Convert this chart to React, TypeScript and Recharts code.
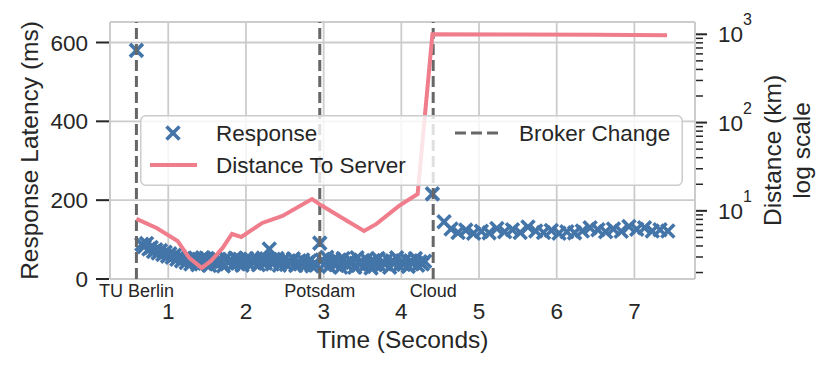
import React from 'react';
import {
  ComposedChart,
  Scatter,
  Line,
  XAxis,
  YAxis,
  CartesianGrid,
  ReferenceLine,
  Legend,
} from 'recharts';

// ---------- data ----------
const responseTimes = [
  0.59,
  0.66, 0.69, 0.72, 0.75, 0.78, 0.81, 0.84, 0.87, 0.9, 0.93, 0.96, 0.99, 1.02, 1.05, 1.08, 1.11, 1.14, 1.17, 1.2, 1.23,
  1.26, 1.29, 1.32, 1.35, 1.38, 1.41, 1.44, 1.47, 1.5, 1.53, 1.56, 1.59, 1.62, 1.65, 1.68, 1.71, 1.74, 1.77, 1.8, 1.83,
  1.86, 1.89, 1.92, 1.95, 1.98, 2.01, 2.04, 2.07, 2.1, 2.13, 2.16, 2.19, 2.22, 2.25, 2.3, 2.31, 2.34, 2.37, 2.4, 2.43,
  2.46, 2.49, 2.52, 2.55, 2.58, 2.61, 2.64, 2.67, 2.7, 2.73, 2.76, 2.79, 2.82, 2.85, 2.88, 2.91,
  2.95, 2.98, 3.01, 3.04, 3.07, 3.1, 3.13, 3.16, 3.19, 3.22, 3.25, 3.28, 3.31, 3.34, 3.37, 3.4, 3.43, 3.46, 3.49, 3.52,
  3.55, 3.58, 3.61, 3.64, 3.67, 3.7, 3.73, 3.76, 3.79, 3.82, 3.85, 3.88, 3.91, 3.94, 3.97, 4.0, 4.03, 4.06, 4.09, 4.12,
  4.15, 4.18, 4.21, 4.24, 4.27, 4.3,
  4.4,
  4.55, 4.64, 4.73, 4.83, 4.93, 5.03, 5.13, 5.23, 5.33, 5.43, 5.53, 5.63, 5.73, 5.83, 5.93, 6.03, 6.13, 6.23, 6.33, 6.43,
  6.53, 6.63, 6.73, 6.83, 6.93, 7.03, 7.13, 7.23, 7.33, 7.43,
];
const responseLatency = [
  580,
  88, 82, 90, 76, 80, 70, 74, 66, 72, 62, 68, 58, 64, 55, 60, 50, 57, 46, 52, 42,
  50, 38, 47, 53, 36, 48, 54, 40, 52, 34, 46, 53, 38, 50, 44, 33, 52, 42, 48, 36,
  53, 40, 50, 35, 45, 52, 38, 48, 42, 51, 36, 46, 53, 40, 76, 50, 38, 47, 52, 35,
  44, 50, 37, 46, 41, 51, 34, 44, 38, 48, 35, 42, 46, 33, 40, 36,
  91, 48, 38, 55, 32, 44, 50, 36, 46, 30, 52, 40, 34, 48, 42, 30, 54, 38, 45, 32,
  50, 40, 28, 47, 36, 52, 33, 44, 38, 50, 30, 46, 40, 54, 34, 44, 37, 50, 32, 46,
  40, 52, 35, 44, 38, 45,
  216,
  145, 127, 118, 124, 116, 121, 117, 128, 120, 125, 118, 132, 122, 118, 123, 116, 120, 117, 122, 130,
  125, 120, 127, 121, 133, 126, 130, 122, 125, 122,
];

const distanceTimes = [0.59, 0.85, 1.12, 1.27, 1.43, 1.55, 1.7, 1.82, 1.94, 2.21, 2.47, 2.85, 2.98, 3.24, 3.52, 3.68, 3.97, 4.21, 4.4, 5.5, 6.5, 7.42];
const distanceKm = [8.1, 6.4, 4.56, 2.93, 2.26, 2.71, 3.8, 5.47, 5.06, 7.29, 8.75, 13.6, 11.4, 8.31, 5.92, 7.11, 11.4, 15.5, 1000, 992, 985, 975];

const brokerTimes = [0.59, 2.95, 4.41];
const brokerNames = ['TU Berlin', 'Potsdam', 'Cloud'];

const xTicks = [1, 2, 3, 4, 5, 6, 7];
const latencyTicks = [0, 200, 400, 600];
const distanceMajorTicks = [10, 100, 1000];
const distanceMinorTicks = [2, 3, 4, 5, 6, 7, 8, 9, 20, 30, 40, 50, 60, 70, 80, 90, 200, 300, 400, 500, 600, 700, 800, 900];

const responseData = responseTimes.map((t, i) => ({ t, v: responseLatency[i] }));
const distanceData = distanceTimes.map((t, i) => ({ t, d: distanceKm[i] }));

// ---------- styles ----------
const FONT = '"Liberation Sans", Arial, sans-serif';
const TEXT = '#262626';
const BLUE = '#4475A8';
const PINK = '#F07D8B';
const DASH = '#676767';
const GRID = '#cccccc';

const XMark = (props: any) => {
  const { cx, cy } = props;
  if (cx == null || cy == null) return null;
  const s = 6.5;
  return (
    <g>
      <line x1={cx - s} y1={cy - s} x2={cx + s} y2={cy + s} stroke={BLUE} strokeWidth={3.6} />
      <line x1={cx - s} y1={cy + s} x2={cx + s} y2={cy - s} stroke={BLUE} strokeWidth={3.6} />
    </g>
  );
};

const LeftTick = (props: any) => {
  const { x, y, payload } = props;
  return (
    <g>
      <line x1={x - 14} x2={x - 1} y1={y} y2={y} stroke={TEXT} strokeWidth={2} />
      <text x={x - 22} y={y} dy="0.36em" textAnchor="end" fontSize={22.5} fontFamily={FONT} fill={TEXT}>
        {payload.value}
      </text>
    </g>
  );
};

const RightTick = (props: any) => {
  const { x, y, payload } = props;
  const v = payload.value;
  const major = distanceMajorTicks.includes(v);
  if (!major) {
    return <line x1={x + 1} x2={x + 8} y1={y} y2={y} stroke={TEXT} strokeWidth={1.5} />;
  }
  const exp = Math.round(Math.log10(v));
  return (
    <g>
      <line x1={x + 1} x2={x + 12} y1={y} y2={y} stroke={TEXT} strokeWidth={2} />
      <text x={x + 23} y={y} dy="0.36em" textAnchor="start" fontSize={22.5} fontFamily={FONT} fill={TEXT}>
        10
      </text>
      <text x={x + 48} y={y - 9} textAnchor="start" fontSize={16} fontFamily={FONT} fill={TEXT}>
        {exp}
      </text>
    </g>
  );
};

const BottomTick = (props: any) => {
  const { x, y, payload } = props;
  return (
    <text x={x} y={y + 40} textAnchor="middle" fontSize={22.5} fontFamily={FONT} fill={TEXT}>
      {payload.value}
    </text>
  );
};

const brokerLabel = (name: string) => (props: any) => {
  const vb = props.viewBox || {};
  return (
    <text x={vb.x} y={vb.y + vb.height + 18} textAnchor="middle" fontSize={18} fontFamily={FONT} fill={TEXT}>
      {name}
    </text>
  );
};

const leftTitle = (props: any) => {
  const vb = props.viewBox;
  const x = vb.x + 8;
  const y = vb.y + vb.height / 2;
  return (
    <text x={x} y={y} transform={`rotate(-90, ${x}, ${y})`} textAnchor="middle" fontSize={24.5} fontFamily={FONT} fill={TEXT}>
      Response Latency (ms)
    </text>
  );
};

const rightTitle = (props: any) => {
  const vb = props.viewBox;
  const x1 = vb.x + 86;
  const x2 = vb.x + 115;
  const y = vb.y + vb.height / 2;
  return (
    <g>
      <text x={x1} y={y} transform={`rotate(-90, ${x1}, ${y})`} textAnchor="middle" fontSize={24.5} fontFamily={FONT} fill={TEXT}>
        Distance (km)
      </text>
      <text x={x2} y={y} transform={`rotate(-90, ${x2}, ${y})`} textAnchor="middle" fontSize={24.5} fontFamily={FONT} fill={TEXT}>
        log scale
      </text>
    </g>
  );
};

const bottomTitle = (props: any) => {
  const vb = props.viewBox;
  return (
    <text x={vb.x + vb.width / 2} y={vb.y + 69} textAnchor="middle" fontSize={24.5} fontFamily={FONT} fill={TEXT}>
      Time (Seconds)
    </text>
  );
};

const renderLegend = () => (
  <svg width={543} height={71} style={{ display: 'block', overflow: 'visible' }}>
    <rect x={0.75} y={0.75} width={541.5} height={69.5} rx={5} ry={5} fill="rgba(255,255,255,0.8)" stroke={GRID} strokeWidth={1.5} />
    <g>
      <line x1={33 - 6.5} y1={18 - 6.5} x2={33 + 6.5} y2={18 + 6.5} stroke={BLUE} strokeWidth={3.6} />
      <line x1={33 - 6.5} y1={18 + 6.5} x2={33 + 6.5} y2={18 - 6.5} stroke={BLUE} strokeWidth={3.6} />
    </g>
    <text x={76} y={18} dy="0.36em" fontSize={22.5} fontFamily={FONT} fill={TEXT}>Response</text>
    <line x1={10} x2={57} y1={50} y2={50} stroke={PINK} strokeWidth={4} />
    <text x={76} y={50} dy="0.36em" fontSize={22.5} fontFamily={FONT} fill={TEXT}>Distance To Server</text>
    <line x1={315} x2={360} y1={18} y2={18} stroke={DASH} strokeWidth={3} strokeDasharray="11 5" />
    <text x={379} y={18} dy="0.36em" fontSize={22.5} fontFamily={FONT} fill={TEXT}>Broker Change</text>
  </svg>
);

export default function App() {
  return (
    <div style={{ position: 'absolute', left: 0, top: 0, width: 831, height: 373, background: '#fff', fontFamily: FONT }}>
      <ComposedChart width={831} height={373} margin={{ top: 22, right: 56, bottom: 54, left: 30 }}>
        <CartesianGrid yAxisId="left" stroke={GRID} strokeWidth={1.8} />
        <XAxis
          dataKey="t"
          type="number"
          domain={[0.25, 7.78]}
          allowDataOverflow
          ticks={xTicks}
          height={40}
          tickSize={0}
          tickMargin={0}
          tickLine={false}
          axisLine={{ stroke: GRID, strokeWidth: 2 }}
          tick={<BottomTick />}
          label={bottomTitle}
        />
        <YAxis
          yAxisId="left"
          orientation="left"
          type="number"
          domain={[0, 652]}
          allowDataOverflow
          ticks={latencyTicks}
          width={80}
          tickSize={0}
          tickMargin={0}
          tickLine={false}
          axisLine={{ stroke: GRID, strokeWidth: 2 }}
          tick={<LeftTick />}
          label={leftTitle}
        />
        <YAxis
          yAxisId="right"
          orientation="right"
          type="number"
          scale="log"
          domain={[1.69, 1378]}
          allowDataOverflow
          ticks={[...distanceMinorTicks, ...distanceMajorTicks]}
          interval={0}
          width={80}
          tickSize={0}
          tickMargin={0}
          tickLine={false}
          axisLine={{ stroke: GRID, strokeWidth: 2 }}
          tick={<RightTick />}
          label={rightTitle}
        />
        <ReferenceLine yAxisId="left" y={652} stroke={GRID} strokeWidth={2} />
        <Scatter
          yAxisId="left"
          data={responseData}
          dataKey="v"
          shape={<XMark />}
          isAnimationActive={false}
          zIndex={600}
        />
        {brokerTimes.map((t, i) => (
          <ReferenceLine
            key={brokerNames[i]}
            yAxisId="left"
            x={t}
            stroke={DASH}
            strokeWidth={3}
            strokeDasharray="11 5"
            label={brokerLabel(brokerNames[i])}
            zIndex={650}
          />
        ))}
        <Line
          yAxisId="right"
          data={distanceData}
          dataKey="d"
          type="linear"
          stroke={PINK}
          strokeWidth={4}
          dot={false}
          activeDot={false}
          isAnimationActive={false}
          zIndex={700}
        />
        <Legend
          layout="horizontal"
          verticalAlign="middle"
          align="center"
          width={543}
          height={71}
          wrapperStyle={{ left: 140, top: 115, width: 543, height: 71, margin: 0, padding: 0 }}
          content={renderLegend}
        />
      </ComposedChart>
    </div>
  );
}
